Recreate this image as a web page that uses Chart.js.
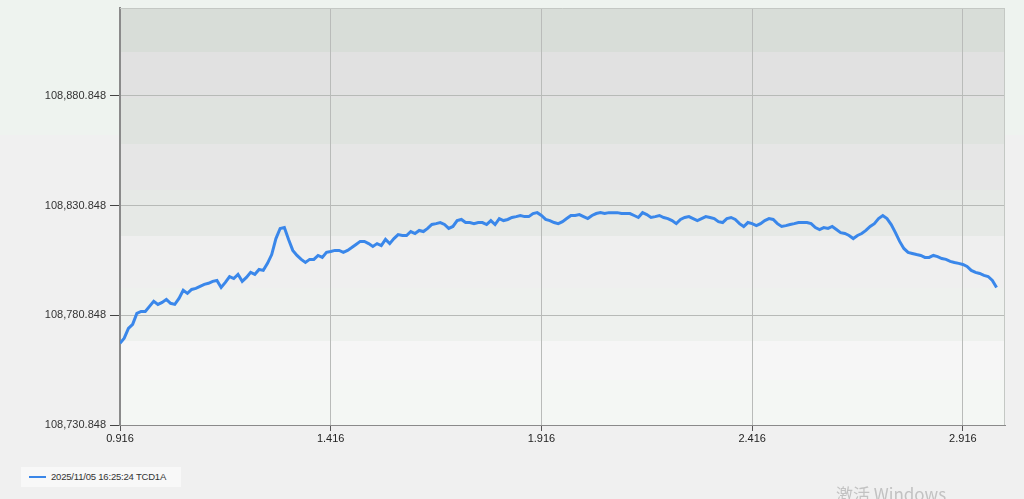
<!DOCTYPE html>
<html>
<head>
<meta charset="utf-8">
<script src="https://cdn.jsdelivr.net/npm/chart.js@4/dist/chart.umd.min.js"></script>
<style>
  html, body { margin: 0; padding: 0; }
  body {
    width: 1024px; height: 499px; overflow: hidden; position: relative;
    background: linear-gradient(to bottom, #eef3ef 0px, #eef3ef 135px, #f0f0f0 135px, #f0f0f0 100%);
    font-family: "Liberation Sans", Arial, sans-serif;
  }
  #wrap { position: absolute; left: 0; top: 0; width: 1024px; height: 499px; }
  #legend {
    position: absolute; left: 21px; top: 467px; width: 160px; height: 20px;
    background: #f8f8f8; font-size: 9.5px; letter-spacing: -0.2px; color: #333;
  }
  #legend .swatch {
    position: absolute; left: 8px; top: 9px; width: 17px; height: 2px; background: #3a86e8;
  }
  #legend .text { position: absolute; left: 30px; top: 4px; white-space: nowrap; }
  #watermark {
    position: absolute; left: 836px; top: 481px; font-size: 17px; color: #c2c2c2;
    font-family: "Noto Sans CJK SC", "Noto Sans", sans-serif; white-space: nowrap;
  }
</style>
</head>
<body>
<div id="wrap"><canvas id="chart" width="1024" height="499"></canvas></div>
<div id="legend"><span class="swatch"></span><span class="text">2025/11/05 16:25:24 TCD1A</span></div>
<div id="watermark">激活 Windows</div>
<script>
/**
 * Curva de medida TCD1A
 */

const seriesLabel = '2025/11/05 16:25:24 TCD1A';

const xTicks = [0.916, 1.416, 1.916, 2.416, 2.916];
const yTicks = [108730.848, 108780.848, 108830.848, 108880.848];

const xValues = [
  0.916, 0.926, 0.936, 0.946, 0.956, 0.966, 0.976, 0.986, 0.996, 1.006,
  1.016, 1.026, 1.036, 1.046, 1.056, 1.066, 1.076, 1.086, 1.096, 1.106,
  1.116, 1.126, 1.136, 1.146, 1.156, 1.166, 1.176, 1.186, 1.196, 1.206,
  1.216, 1.226, 1.236, 1.246, 1.256, 1.266, 1.276, 1.286, 1.296, 1.306,
  1.316, 1.326, 1.336, 1.346, 1.356, 1.366, 1.376, 1.386, 1.396, 1.406,
  1.416, 1.426, 1.436, 1.446, 1.456, 1.466, 1.476, 1.486, 1.496, 1.506,
  1.516, 1.526, 1.536, 1.546, 1.556, 1.566, 1.576, 1.586, 1.596, 1.606,
  1.616, 1.626, 1.636, 1.646, 1.656, 1.666, 1.676, 1.686, 1.696, 1.706,
  1.716, 1.726, 1.736, 1.746, 1.756, 1.766, 1.776, 1.786, 1.796, 1.806,
  1.816, 1.826, 1.836, 1.846, 1.856, 1.866, 1.876, 1.886, 1.896, 1.906,
  1.916, 1.926, 1.936, 1.946, 1.956, 1.966, 1.976, 1.986, 1.996, 2.006,
  2.016, 2.026, 2.036, 2.046, 2.056, 2.066, 2.076, 2.086, 2.096, 2.106,
  2.116, 2.126, 2.136, 2.146, 2.156, 2.166, 2.176, 2.186, 2.196, 2.206,
  2.216, 2.226, 2.236, 2.246, 2.256, 2.266, 2.276, 2.286, 2.296, 2.306,
  2.316, 2.326, 2.336, 2.346, 2.356, 2.366, 2.376, 2.386, 2.396, 2.406,
  2.416, 2.426, 2.436, 2.446, 2.456, 2.466, 2.476, 2.486, 2.496, 2.506,
  2.516, 2.526, 2.536, 2.546, 2.556, 2.566, 2.576, 2.586, 2.596, 2.606,
  2.616, 2.626, 2.636, 2.646, 2.656, 2.666, 2.676, 2.686, 2.696, 2.706,
  2.716, 2.726, 2.736, 2.746, 2.756, 2.766, 2.776, 2.786, 2.796, 2.806,
  2.816, 2.826, 2.836, 2.846, 2.856, 2.866, 2.876, 2.886, 2.896, 2.906,
  2.916, 2.926, 2.936, 2.946, 2.956, 2.966, 2.976, 2.986, 2.996
];

const yValues = [
  108768.1, 108770.4, 108774.9, 108776.7, 108781.7, 108782.6, 108782.6, 108784.9, 108787.2, 108785.8,
  108786.7, 108788.1, 108786.3, 108785.8, 108788.5, 108792.2, 108790.8, 108792.6, 108793.1, 108794.0,
  108794.9, 108795.4, 108796.3, 108796.7, 108793.5, 108795.8, 108798.5, 108797.6, 108799.5, 108796.3,
  108798.1, 108800.4, 108799.5, 108801.7, 108801.3, 108804.5, 108808.5, 108815.8, 108820.4, 108820.8,
  108815.4, 108810.4, 108808.1, 108806.3, 108804.9, 108806.3, 108806.3, 108808.1, 108807.2, 108809.5,
  108809.9, 108810.4, 108810.4, 108809.5, 108810.4, 108811.7, 108813.1, 108814.5, 108814.5, 108813.5,
  108812.2, 108813.5, 108812.6, 108815.4, 108813.5, 108815.8, 108817.6, 108817.2, 108817.2, 108819.0,
  108818.1, 108819.5, 108819.0, 108820.4, 108822.2, 108822.6, 108823.1, 108822.2, 108820.4, 108821.3,
  108824.0, 108824.5, 108823.1, 108823.1, 108822.6, 108823.1, 108823.1, 108822.2, 108824.0, 108822.2,
  108824.9, 108824.0, 108824.5, 108825.4, 108825.8, 108826.3, 108825.8, 108825.8, 108827.2, 108827.6,
  108826.3, 108824.5, 108824.0, 108823.1, 108822.6, 108823.5, 108824.9, 108826.3, 108826.3, 108826.7,
  108825.8, 108824.9, 108826.3, 108827.2, 108827.6, 108827.2, 108827.6, 108827.6, 108827.6, 108827.2,
  108827.2, 108827.2, 108826.3, 108825.4, 108827.6, 108826.7, 108825.4, 108825.8, 108826.3, 108825.4,
  108824.9, 108824.0, 108822.6, 108824.5, 108825.4, 108825.8, 108824.9, 108824.0, 108824.9, 108825.8,
  108825.4, 108824.9, 108823.5, 108823.1, 108824.9, 108825.4, 108824.5, 108822.6, 108821.3, 108823.1,
  108822.6, 108821.7, 108822.6, 108824.0, 108824.9, 108824.5, 108822.6, 108821.3, 108821.7, 108822.2,
  108822.6, 108823.1, 108823.1, 108823.1, 108822.6, 108820.8, 108819.9, 108820.8, 108820.4, 108821.3,
  108819.9, 108818.5, 108818.1, 108817.2, 108815.8, 108817.2, 108818.1, 108819.5, 108821.3, 108822.6,
  108824.9, 108826.3, 108824.9, 108822.2, 108818.5, 108814.5, 108811.3, 108809.5, 108809.0, 108808.5,
  108808.1, 108807.2, 108807.2, 108808.1, 108807.6, 108806.7, 108806.3, 108805.4, 108804.9, 108804.5,
  108804.0, 108803.1, 108801.3, 108800.4, 108799.9, 108799.0, 108798.5, 108796.7, 108793.5
];

// Bandas de fondo del area de trazado (fraccion superior, color)
const bandStops = [
  [0.000, '#d8ddd8'], [0.105, '#e1e1e1'], [0.216, '#dfe3df'], [0.326, '#e6e6e6'],
  [0.436, '#e6e9e6'], [0.547, '#efefef'], [0.671, '#eef1ee'], [0.799, '#f6f6f6'],
  [0.892, '#f4f7f4']
];

const plotBackground = {
  id: 'plotBackground',
  beforeDraw(chart) {
    const { ctx, chartArea: a } = chart;
    const h = a.bottom - a.top;
    ctx.save();
    bandStops.forEach((b, i) => {
      const y0 = a.top + Math.round(b[0] * h);
      const y1 = i + 1 < bandStops.length ? a.top + Math.round(bandStops[i + 1][0] * h) : a.bottom;
      ctx.fillStyle = b[1];
      ctx.fillRect(a.left, y0, a.right - a.left, y1 - y0);
    });
    ctx.restore();
  },
  afterDraw(chart) {
    const { ctx, chartArea: a } = chart;
    ctx.save();
    ctx.strokeStyle = '#c4c8c4';
    ctx.lineWidth = 1;
    ctx.beginPath();
    ctx.moveTo(a.left, a.top + 0.5);
    ctx.lineTo(a.right, a.top + 0.5);
    ctx.moveTo(a.right - 0.5, a.top);
    ctx.lineTo(a.right - 0.5, a.bottom);
    ctx.stroke();
    ctx.restore();
  }
};

const fmtY = (v) => v.toLocaleString('en-US', { minimumFractionDigits: 3, maximumFractionDigits: 3 });

new Chart(document.getElementById('chart'), {
  type: 'line',
  data: {
    datasets: [{
      label: seriesLabel,
      data: xValues.map((x, i) => ({ x, y: yValues[i] })),
      borderColor: '#3a87ea',
      borderWidth: 3,
      borderJoinStyle: 'miter',
      pointRadius: 0,
      tension: 0,
      fill: false
    }]
  },
  options: {
    responsive: false,
    animation: false,
    layout: { padding: { top: 8, right: 19, bottom: 52, left: 0 } },
    plugins: {
      legend: { display: false },
      tooltip: { enabled: false }
    },
    scales: {
      x: {
        type: 'linear',
        min: 0.916,
        max: 3.016,
        afterBuildTicks: (scale) => { scale.ticks = xTicks.map(v => ({ value: v })); },
        afterFit: (scale) => { scale.height = 22; },
        ticks: {
          callback: (val) => val.toFixed(3),
          color: '#222',
          font: { family: 'Liberation Sans', size: 11 },
          padding: 1,
          maxRotation: 0
        },
        grid: { color: '#b9bbb9', lineWidth: 1, tickLength: 6, tickColor: '#555' },
        border: { color: '#8a8a8a', width: 1 }
      },
      y: {
        min: 108730.848,
        max: 108920.848,
        afterBuildTicks: (scale) => { scale.ticks = yTicks.map(v => ({ value: v })); },
        afterFit: (scale) => {
          scale.width = 120;
          // sin margen extra arriba por la etiqueta
          scale.paddingTop = 0;
        },
        ticks: {
          callback: (val) => fmtY(val),
          color: '#333',
          font: { family: 'Liberation Sans', size: 11 },
          padding: 4
        },
        grid: { color: '#b7bab7', lineWidth: 1, tickLength: 10, tickColor: '#444' },
        border: { color: '#8a8a8a', width: 2 }
      }
    }
  },
  plugins: [plotBackground]
});
</script>
</body>
</html>
